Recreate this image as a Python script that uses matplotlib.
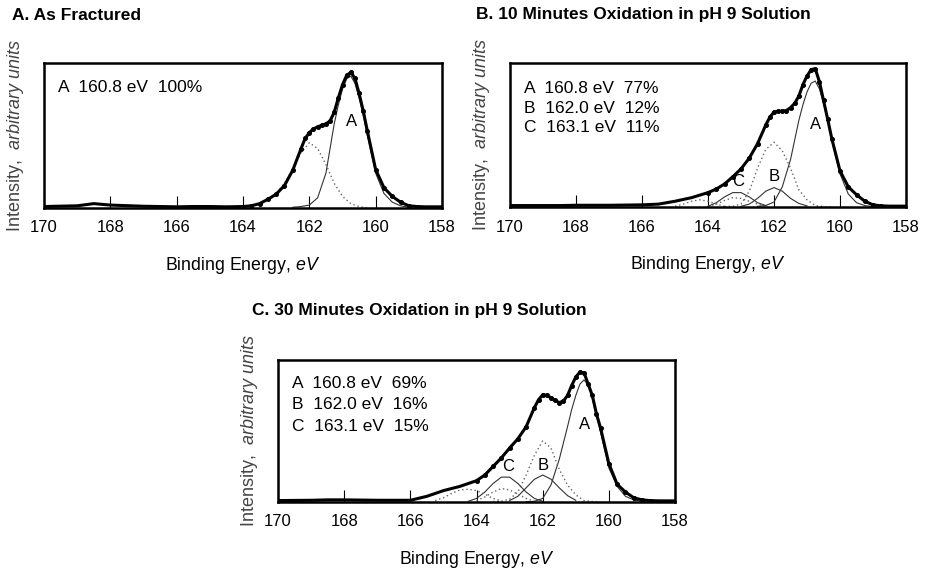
import matplotlib.pyplot as plt

plt.rcParams["font.family"] = ["Liberation Sans", "DejaVu Sans"]
plt.rcParams["mathtext.fontset"] = "custom"
plt.rcParams["mathtext.rm"] = "Liberation Sans"
plt.rcParams["mathtext.it"] = "Liberation Sans:italic"
plt.rcParams["mathtext.bf"] = "Liberation Sans:bold"

# binding energy grid (eV) used by the measured envelopes
energy = [170, 169, 168.5, 168, 167, 166, 165.5, 165, 164.5, 164, 163.75, 163.5,
          163.25, 163, 162.75, 162.5, 162.25, 162.125, 162, 161.875, 161.75, 161.625,
          161.5, 161.375, 161.25, 161.125, 161, 160.875, 160.75, 160.625, 160.5, 160.375,
          160.25, 160, 159.75, 159.5, 159.25, 159, 158.75, 158.5, 158]

env_a = [0.01, 0.015, 0.03, 0.02, 0.012, 0.008, 0.01, 0.01, 0.008, 0.01, 0.015, 0.03,
         0.06, 0.095, 0.155, 0.26, 0.41, 0.48, 0.52, 0.545, 0.56, 0.57,
         0.58, 0.60, 0.66, 0.76, 0.85, 0.915, 0.935, 0.895, 0.79, 0.67,
         0.53, 0.265, 0.14, 0.08, 0.04, 0.015, 0.01, 0.008, 0.008]
env_b = [0.01, 0.01, 0.01, 0.012, 0.012, 0.015, 0.02, 0.04, 0.065, 0.1, 0.125, 0.16,
         0.21, 0.265, 0.34, 0.44, 0.57, 0.625, 0.66, 0.665, 0.665, 0.67,
         0.69, 0.72, 0.77, 0.85, 0.91, 0.955, 0.96, 0.87, 0.74, 0.61,
         0.475, 0.25, 0.14, 0.085, 0.04, 0.015, 0.008, 0.006, 0.006]
env_c = [0.01, 0.012, 0.015, 0.015, 0.012, 0.012, 0.04, 0.08, 0.11, 0.15, 0.19, 0.25,
         0.31, 0.38, 0.445, 0.53, 0.665, 0.72, 0.755, 0.75, 0.735, 0.715,
         0.70, 0.71, 0.75, 0.82, 0.88, 0.915, 0.91, 0.83, 0.75, 0.62,
         0.52, 0.27, 0.125, 0.07, 0.03, 0.015, 0.01, 0.008, 0.008]

# fitted components: S 2p3/2 (solid) and S 2p1/2 (dotted)
e_a3 = [162.5, 162.25, 162, 161.75, 161.5, 161.25, 161.125, 161, 160.875, 160.75,
        160.625, 160.5, 160.375, 160.25, 160, 159.75, 159.5, 159.25, 159]
a_a3 = [0.005, 0.01, 0.02, 0.07, 0.24, 0.58, 0.71, 0.82, 0.89, 0.91,
        0.86, 0.76, 0.64, 0.5, 0.24, 0.1, 0.04, 0.015, 0.005]
e_a1 = [163.5, 163.25, 163, 162.75, 162.5, 162.25, 162, 161.75, 161.5, 161.25, 161, 160.75, 160.5, 160.25]
a_a1 = [0.03, 0.06, 0.1, 0.17, 0.27, 0.38, 0.45, 0.41, 0.3, 0.17, 0.08, 0.03, 0.01, 0.0]

b_a3 = [0.005, 0.01, 0.035, 0.14, 0.33, 0.6, 0.71, 0.8, 0.86, 0.875,
        0.82, 0.72, 0.6, 0.46, 0.23, 0.09, 0.03, 0.01, 0.003]
b_a1 = [0.003, 0.005, 0.02, 0.11, 0.27, 0.4, 0.45, 0.39, 0.27, 0.12, 0.05, 0.01, 0.003, 0.0]
e_b3 = [163, 162.75, 162.5, 162.25, 162, 161.75, 161.5, 161.25, 161]
b_b3 = [0.005, 0.02, 0.06, 0.11, 0.135, 0.11, 0.06, 0.025, 0.008]
e_b1 = [164, 163.75, 163.5, 163.25, 163, 162.75, 162.5, 162.25]
b_b1 = [0.005, 0.02, 0.045, 0.065, 0.06, 0.04, 0.02, 0.005]
e_c3 = [164, 163.75, 163.5, 163.25, 163, 162.75, 162.5, 162.25]
b_c3 = [0.005, 0.03, 0.07, 0.1, 0.1, 0.07, 0.03, 0.01]
e_c1 = [165, 164.75, 164.5, 164.25, 164, 163.75, 163.5]
b_c1 = [0.005, 0.02, 0.04, 0.05, 0.04, 0.02, 0.005]

c_a3 = [0.002, 0.005, 0.025, 0.12, 0.3, 0.53, 0.65, 0.75, 0.83, 0.86,
        0.82, 0.73, 0.61, 0.49, 0.24, 0.11, 0.04, 0.015, 0.005]
c_a1 = [0.003, 0.005, 0.02, 0.07, 0.19, 0.33, 0.43, 0.38, 0.23, 0.12, 0.05, 0.01, 0.003, 0.0]
c_b3 = [0.01, 0.04, 0.1, 0.16, 0.19, 0.16, 0.1, 0.045, 0.012]
e_b1c = [164, 163.75, 163.5, 163.25, 163, 162.75, 162.5, 162.25]
c_b1 = [0.01, 0.035, 0.07, 0.095, 0.085, 0.055, 0.025, 0.005]
e_c3c = [164.25, 164, 163.75, 163.5, 163.25, 163, 162.75, 162.5, 162.25, 162]
c_c3 = [0.005, 0.025, 0.07, 0.13, 0.175, 0.175, 0.13, 0.07, 0.025, 0.005]
e_c1c = [165.25, 165, 164.75, 164.5, 164.25, 164, 163.75, 163.5, 163.25]
c_c1 = [0.01, 0.03, 0.06, 0.085, 0.09, 0.08, 0.055, 0.025, 0.008]

titles = ["A. As Fractured",
          "B. 10 Minutes Oxidation in pH 9 Solution",
          "C. 30 Minutes Oxidation in pH 9 Solution"]
fit_a = ["A  160.8 eV  100%"]
fit_b = ["A  160.8 eV  77%", "B  162.0 eV  12%", "C  163.1 eV  11%"]
fit_c = ["A  160.8 eV  69%", "B  162.0 eV  16%", "C  163.1 eV  15%"]
xticks = [170, 168, 166, 164, 162, 160, 158]

fig = plt.figure(figsize=(9.27, 5.72), dpi=100)


def panel(rect, title, title_xy, env, comps, fits, fit_y, peak_labels):
    ax = fig.add_axes(rect)
    for e, y, ls in comps:
        if ls == "solid":
            ax.plot(e, y, color="#333333", lw=0.8)
        else:
            ax.plot(e, y, color="#666666", lw=1.0, ls=(0, (1, 2)))
    ax.plot(energy, env, color="black", lw=2.2, solid_joinstyle="round")
    ax.plot(energy[9:39], env[9:39], "o", color="black", ms=2.6)
    ax.set_xlim(170, 158)
    ax.set_ylim(0, 1)
    ax.set_xticks(xticks)
    ax.tick_params(axis="x", direction="in", length=8.5, width=0.8, pad=9, labelsize=12)
    ax.set_yticks([])
    for s in ax.spines.values():
        s.set_linewidth(1.8)
    for txt, yy in zip(fits, fit_y):
        ax.text(0.035, yy, txt, transform=ax.transAxes, fontsize=12.5, va="center")
    for lab, e, y in peak_labels:
        ax.text(e, y, lab, fontsize=12, ha="center", va="center")
    ax.set_xlabel(r"Binding Energy, $\mathit{eV}$", fontsize=12.8, labelpad=14)
    ax.set_ylabel(r"Intensity,  $\mathit{arbitrary\ units}$", fontsize=13, color="#444444",
                  labelpad=13)
    fig.text(title_xy[0], title_xy[1], title, fontsize=12.5, fontweight="bold", va="center")
    return ax


panel([0.0475, 0.6364, 0.4293, 0.2535], titles[0], (12 / 927, 1 - 15 / 572), env_a,
      [(e_a3, a_a3, "solid"), (e_a1, a_a1, "dot")],
      fit_a, [0.834], [("A", 160.73, 0.595)])

panel([0.5502, 0.6381, 0.4272, 0.2517], titles[1], (476 / 927, 1 - 15 / 572), env_b,
      [(e_a3, b_a3, "solid"), (e_a1, b_a1, "dot"), (e_b3, b_b3, "solid"),
       (e_b1, b_b1, "dot"), (e_c3, b_c3, "solid"), (e_c1, b_c1, "dot")],
      fit_b, [0.826, 0.687, 0.549],
      [("A", 160.73, 0.57), ("B", 162.0, 0.21), ("C", 163.08, 0.175)])

panel([0.2999, 0.1224, 0.4283, 0.2483], titles[2], (252 / 927, 1 - 310 / 572), env_c,
      [(e_a3, c_a3, "solid"), (e_a1, c_a1, "dot"), (e_b3, c_b3, "solid"),
       (e_b1c, c_b1, "dot"), (e_c3c, c_c3, "solid"), (e_c1c, c_c1, "dot")],
      fit_c, [0.836, 0.688, 0.533],
      [("A", 160.73, 0.545), ("B", 161.98, 0.26), ("C", 163.04, 0.25)])

fig.savefig("out.png", dpi=100)
